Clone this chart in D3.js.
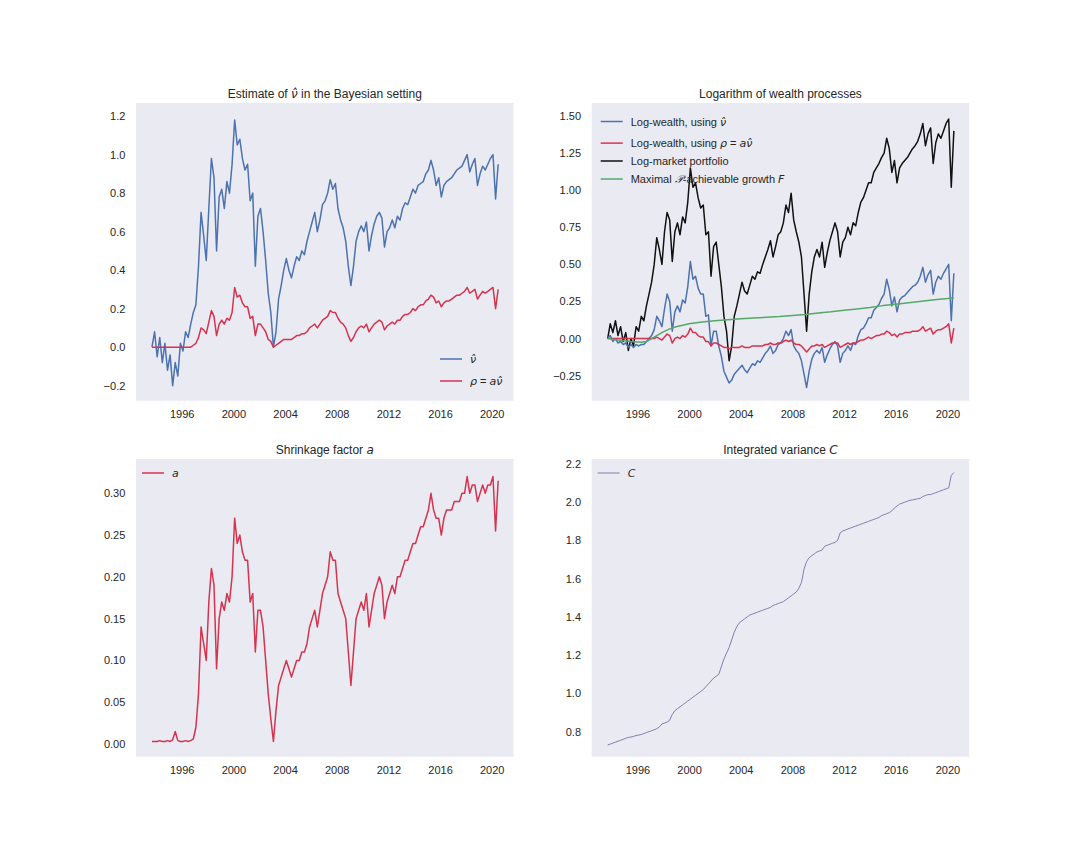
<!DOCTYPE html>
<html>
<head>
<meta charset="utf-8">
<script src="https://cdn.jsdelivr.net/npm/d3@7"></script>
<style>
  body { margin: 0; background: #fff; }
  text { font-family: "Liberation Sans", Arial, sans-serif; fill: #262626; }
  .math { font-family: "DejaVu Sans", sans-serif; font-style: italic; }
</style>
</head>
<body>
<svg id="fig" width="1080" height="864"></svg>
<script>
"use strict";

// sampling dates: every 0.2 year from 1993.7 to 2020.5
var years = d3.range(135).map(function (i) { return 1993.7 + 0.2 * i; });
var xTicks = [1996, 2000, 2004, 2008, 2012, 2016, 2020];

// estimate of nu-hat (blue, top left)
var nuHat = [
  0.00, 0.08,
  -0.05, 0.05, -0.08, 0.02, -0.12,
  -0.04, -0.20, -0.08, -0.15, 0.02,
  -0.02, 0.08, 0.05, 0.12, 0.18,
  0.22, 0.42, 0.70, 0.58, 0.45,
  0.72, 0.98, 0.88, 0.50, 0.78,
  0.82, 0.72, 0.86, 0.80, 0.95,
  1.18, 1.05, 1.08, 0.98, 0.92,
  0.95, 0.76, 0.80, 0.42, 0.68,
  0.72, 0.60, 0.45, 0.28, 0.18,
  0.00, 0.08, 0.25, 0.32, 0.40,
  0.46, 0.40, 0.36, 0.42, 0.47,
  0.45, 0.50, 0.48, 0.55, 0.60,
  0.65, 0.70, 0.60, 0.66, 0.74,
  0.76, 0.80, 0.87, 0.82, 0.85,
  0.72, 0.66, 0.62, 0.55, 0.42,
  0.32, 0.42, 0.55, 0.60, 0.63,
  0.60, 0.65, 0.50, 0.58, 0.64,
  0.68, 0.70, 0.67, 0.52, 0.60,
  0.62, 0.66, 0.62, 0.68, 0.66,
  0.72, 0.75, 0.74, 0.78, 0.82,
  0.80, 0.84, 0.85, 0.86, 0.90,
  0.92, 0.97, 0.92, 0.84, 0.88,
  0.78, 0.84, 0.86, 0.87, 0.88,
  0.90, 0.92, 0.93, 0.94, 0.97,
  1.00, 0.91, 0.95, 0.98, 0.84,
  0.90, 0.94, 0.92, 0.95, 0.98,
  1.00, 0.77, 0.95
];

// rho = a * nu-hat (red, top left)
var rho = [
  0.00, 0.00,
  0.00, 0.00, 0.00, 0.00, 0.00,
  0.00, 0.00, 0.00, 0.00, 0.00,
  0.00, 0.00, 0.00, 0.00, 0.01,
  0.02, 0.05, 0.10, 0.09, 0.07,
  0.13, 0.19, 0.16, 0.06, 0.12,
  0.14, 0.12, 0.15, 0.14, 0.18,
  0.31, 0.26, 0.27, 0.23, 0.21,
  0.21, 0.15, 0.16, 0.06, 0.12,
  0.12, 0.10, 0.08, 0.04, 0.03,
  0.00, 0.01, 0.02, 0.03, 0.04,
  0.04, 0.04, 0.04, 0.05, 0.06,
  0.06, 0.07, 0.07, 0.08, 0.10,
  0.11, 0.12, 0.10, 0.12, 0.14,
  0.15, 0.16, 0.19, 0.18, 0.18,
  0.15, 0.13, 0.12, 0.10, 0.06,
  0.03, 0.05, 0.08, 0.10, 0.11,
  0.10, 0.12, 0.08, 0.10, 0.12,
  0.13, 0.14, 0.13, 0.09, 0.11,
  0.12, 0.13, 0.12, 0.14, 0.14,
  0.16, 0.17, 0.17, 0.18, 0.20,
  0.19, 0.21, 0.22, 0.22, 0.24,
  0.25, 0.27, 0.26, 0.23, 0.24,
  0.21, 0.23, 0.24, 0.24, 0.25,
  0.26, 0.27, 0.27, 0.28, 0.29,
  0.31, 0.28, 0.29, 0.30, 0.25,
  0.27, 0.29, 0.28, 0.29, 0.30,
  0.31, 0.20, 0.30
];

// shrinkage factor a (bottom left)
var shrink = [
  0.003, 0.003,
  0.003, 0.004, 0.003, 0.003, 0.004,
  0.003, 0.005, 0.015, 0.004, 0.003,
  0.003, 0.004, 0.003, 0.004, 0.006,
  0.02, 0.06, 0.14, 0.12, 0.10,
  0.17, 0.21, 0.19, 0.09, 0.15,
  0.17, 0.16, 0.18, 0.17, 0.20,
  0.27, 0.24, 0.25, 0.23, 0.22,
  0.22, 0.17, 0.18, 0.11, 0.16,
  0.16, 0.14, 0.10, 0.06, 0.03,
  0.003, 0.04, 0.07, 0.08, 0.09,
  0.10, 0.09, 0.08, 0.09, 0.10,
  0.10, 0.11, 0.11, 0.12, 0.14,
  0.15, 0.16, 0.14, 0.16, 0.18,
  0.19, 0.20, 0.23, 0.22, 0.22,
  0.18, 0.17, 0.16, 0.15, 0.11,
  0.07, 0.11, 0.15, 0.16, 0.17,
  0.16, 0.18, 0.14, 0.16, 0.18,
  0.19, 0.20, 0.19, 0.15, 0.17,
  0.18, 0.19, 0.18, 0.20, 0.20,
  0.21, 0.22, 0.22, 0.23, 0.24,
  0.24, 0.25, 0.26, 0.26, 0.27,
  0.28, 0.30, 0.28, 0.27, 0.27,
  0.25, 0.27, 0.28, 0.28, 0.28,
  0.29, 0.29, 0.29, 0.30, 0.30,
  0.32, 0.30, 0.31, 0.31, 0.29,
  0.30, 0.31, 0.30, 0.31, 0.31,
  0.32, 0.255, 0.315
];

// integrated variance C (bottom right)
var intVar = [
  0.73, 0.735,
  0.74, 0.745, 0.75, 0.755, 0.76,
  0.765, 0.77, 0.772, 0.775, 0.78,
  0.782, 0.785, 0.79, 0.795, 0.80,
  0.805, 0.81, 0.815, 0.825, 0.84,
  0.845, 0.85, 0.86, 0.89, 0.91,
  0.92, 0.93, 0.94, 0.95, 0.96,
  0.97, 0.98, 0.99, 1.00, 1.01,
  1.02, 1.035, 1.05, 1.065, 1.08,
  1.09, 1.10, 1.14, 1.18, 1.21,
  1.24, 1.28, 1.32, 1.35, 1.37,
  1.38, 1.39, 1.40, 1.41, 1.415,
  1.42, 1.425, 1.43, 1.435, 1.44,
  1.445, 1.45, 1.46, 1.465, 1.47,
  1.475, 1.48, 1.49, 1.50, 1.51,
  1.52, 1.53, 1.55, 1.58, 1.65,
  1.69, 1.71, 1.72, 1.73, 1.74,
  1.745, 1.75, 1.77, 1.775, 1.78,
  1.785, 1.79, 1.80, 1.84, 1.85,
  1.855, 1.86, 1.865, 1.87, 1.875,
  1.88, 1.885, 1.89, 1.895, 1.90,
  1.905, 1.91, 1.915, 1.92, 1.93,
  1.935, 1.94, 1.945, 1.955, 1.97,
  1.98, 1.99, 1.995, 2.00, 2.005,
  2.01, 2.012, 2.015, 2.018, 2.02,
  2.03, 2.035, 2.04, 2.04, 2.045,
  2.05, 2.055, 2.06, 2.065, 2.07,
  2.075, 2.14, 2.155
];

// log-market portfolio (black, top right)
var logMarket = [
  0.00, 0.10,
  0.04, 0.12, 0.02, 0.08, -0.02,
  0.04, -0.08, 0.00, -0.05, 0.08,
  0.05, 0.15, 0.12, 0.22, 0.30,
  0.38, 0.50, 0.68, 0.60, 0.50,
  0.72, 0.85, 0.80, 0.52, 0.72,
  0.78, 0.70, 0.82, 0.78, 0.92,
  1.15, 1.02, 1.05, 0.95, 0.88,
  0.90, 0.70, 0.72, 0.42, 0.62,
  0.65, 0.50, 0.35, 0.15, 0.05,
  -0.15, -0.05, 0.15, 0.22, 0.30,
  0.38, 0.32, 0.30, 0.36, 0.42,
  0.40, 0.45, 0.44, 0.50, 0.55,
  0.60, 0.66, 0.55, 0.62, 0.70,
  0.72, 0.78, 0.90, 0.85, 0.98,
  0.80, 0.72, 0.65, 0.55, 0.30,
  0.05, 0.30, 0.45, 0.55, 0.60,
  0.55, 0.65, 0.48, 0.58, 0.66,
  0.72, 0.78, 0.72, 0.55, 0.65,
  0.68, 0.75, 0.70, 0.78, 0.76,
  0.85, 0.92, 0.95, 1.00, 1.05,
  1.05, 1.12, 1.15, 1.18, 1.22,
  1.25, 1.35, 1.28, 1.12, 1.20,
  1.05, 1.15, 1.18, 1.20, 1.22,
  1.25, 1.28, 1.30, 1.33, 1.38,
  1.45, 1.30, 1.38, 1.42, 1.18,
  1.32, 1.38, 1.35, 1.40, 1.45,
  1.48, 1.02, 1.40
];

// log-wealth using nu-hat (blue, top right)
var wealthNu = [
  0.00, 0.02,
  -0.02, 0.00, -0.03, -0.02, -0.04,
  -0.03, -0.06, -0.04, -0.06, -0.04,
  -0.05, -0.04, -0.04, -0.02, 0.00,
  0.02, 0.06, 0.15, 0.12, 0.08,
  0.20, 0.30, 0.25, 0.05, 0.18,
  0.22, 0.18, 0.26, 0.24, 0.35,
  0.52, 0.40, 0.42, 0.34, 0.30,
  0.30, 0.15, 0.16, -0.05, 0.05,
  0.05, -0.05, -0.12, -0.22, -0.26,
  -0.30, -0.28, -0.24, -0.22, -0.20,
  -0.18, -0.21, -0.23, -0.20, -0.17,
  -0.18, -0.15, -0.16, -0.13, -0.10,
  -0.08, -0.05, -0.10, -0.08, -0.04,
  -0.03, 0.00, 0.05, 0.02, 0.06,
  -0.05, -0.08, -0.10, -0.15, -0.24,
  -0.33, -0.22, -0.14, -0.10, -0.08,
  -0.10, -0.06, -0.16, -0.11, -0.07,
  -0.04, -0.02, -0.05, -0.16, -0.10,
  -0.08, -0.05, -0.08, -0.03, -0.04,
  0.02, 0.06, 0.07, 0.10, 0.14,
  0.14, 0.19, 0.21, 0.23, 0.27,
  0.30, 0.40, 0.33, 0.22, 0.28,
  0.18, 0.26, 0.28, 0.29, 0.31,
  0.33, 0.35, 0.36, 0.38, 0.42,
  0.48, 0.38, 0.43, 0.46, 0.30,
  0.38, 0.42, 0.40, 0.44, 0.47,
  0.50, 0.12, 0.44
];

// log-wealth using rho (red, top right)
var wealthRho = [
  0.00, 0.00,
  0.00, 0.00, 0.00, 0.00, 0.00,
  0.00, 0.00, 0.00, 0.00, 0.00,
  0.00, 0.00, 0.00, 0.00, 0.00,
  0.00, 0.00, 0.01, 0.00, -0.01,
  0.01, 0.03, 0.02, -0.03, 0.00,
  0.01, 0.00, 0.02, 0.01, 0.03,
  0.07, 0.04, 0.04, 0.02, 0.01,
  0.01, -0.02, -0.02, -0.05, -0.03,
  -0.03, -0.04, -0.05, -0.06, -0.06,
  -0.07, -0.06, -0.06, -0.06, -0.06,
  -0.05, -0.06, -0.06, -0.06, -0.05,
  -0.05, -0.05, -0.05, -0.05, -0.04,
  -0.04, -0.03, -0.04, -0.04, -0.03,
  -0.03, -0.02, -0.01, -0.02, -0.01,
  -0.03, -0.04, -0.04, -0.05, -0.07,
  -0.09, -0.07, -0.05, -0.05, -0.04,
  -0.05, -0.04, -0.06, -0.05, -0.04,
  -0.03, -0.03, -0.03, -0.06, -0.05,
  -0.04, -0.03, -0.04, -0.03, -0.03,
  -0.02, -0.01, -0.01, 0.00, 0.01,
  0.00, 0.01, 0.02, 0.02, 0.03,
  0.03, 0.05, 0.04, 0.02, 0.03,
  0.01, 0.03, 0.03, 0.04, 0.04,
  0.04, 0.05, 0.05, 0.05, 0.06,
  0.08, 0.05, 0.06, 0.07, 0.03,
  0.05, 0.06, 0.06, 0.07, 0.08,
  0.10, -0.03, 0.07
];

// maximal P-achievable growth F (green, top right), smooth so sampled yearly
var growthYears = [1993.7, 1994.5, 1995.5, 1996.3, 1996.7, 1997.0, 1997.5, 1998.0, 1998.5, 1999.0,
  2000, 2001, 2002, 2003, 2004, 2005, 2006, 2007, 2008, 2009, 2010, 2011, 2012,
  2013, 2014, 2015, 2016, 2017, 2018, 2019, 2020, 2020.5];
var growthF = [0.00, -0.01, -0.02, -0.025, -0.02, -0.005, 0.02, 0.045, 0.065, 0.08,
  0.100, 0.112, 0.120, 0.127, 0.133, 0.138, 0.143, 0.148, 0.155, 0.162, 0.172, 0.180, 0.190,
  0.200, 0.210, 0.222, 0.232, 0.242, 0.252, 0.262, 0.270, 0.275];

var blue = "#4C72B0", red = "#D6334F", green = "#55A868", black = "#111111", purple = "#7F7FAE";

var W = 377.5, H = 297.7;
var xDomain = [1992.462, 2021.688];
var svg = d3.select("#fig");

function makePanel(id, left, top, yDomain, yTicks, yFormat, titleParts) {
  var g = svg.append("g").attr("transform", "translate(" + left + "," + top + ")");
  g.append("rect").attr("width", W).attr("height", H).attr("fill", "#EAEAF2");
  g.append("clipPath").attr("id", id).append("rect").attr("width", W).attr("height", H);

  var x = d3.scaleLinear().domain(xDomain).range([0, W]);
  var y = d3.scaleLinear().domain(yDomain).range([H, 0]);

  var gx = g.append("g").attr("transform", "translate(0," + H + ")")
    .call(d3.axisBottom(x).tickValues(xTicks).tickFormat(d3.format("d")).tickSize(0).tickPadding(9.5));
  var gy = g.append("g")
    .call(d3.axisLeft(y).tickValues(yTicks).tickFormat(d3.format(yFormat)).tickSize(0).tickPadding(10.7));
  [gx, gy].forEach(function (a) {
    a.select(".domain").remove();
    a.attr("font-family", null).attr("font-size", 11);
    a.selectAll("text").attr("fill", "#262626");
  });

  var t = g.append("text").attr("x", W / 2).attr("y", -5)
    .attr("text-anchor", "middle").attr("font-size", 12);
  addParts(t, titleParts);

  var plot = g.append("g").attr("clip-path", "url(#" + id + ")");
  return {g: g, plot: plot, x: x, y: y};
}

function addParts(textSel, parts) {
  parts.forEach(function (p) {
    var s = textSel.append("tspan").text(p.t);
    if (p.m) s.attr("class", "math");
  });
}

function drawLine(panel, xs, ys, color, width) {
  var line = d3.line()
    .x(function (d, i) { return panel.x(xs[i]); })
    .y(function (d) { return panel.y(d); });
  panel.plot.append("path")
    .datum(ys)
    .attr("d", line)
    .attr("fill", "none")
    .attr("stroke", color)
    .attr("stroke-width", width || 1.5)
    .attr("stroke-linejoin", "round");
}

function drawLegend(panel, items, lx, ly) {
  var lg = panel.g.append("g").attr("transform", "translate(" + lx + "," + ly + ")");
  items.forEach(function (it) {
    lg.append("line").attr("x1", 0).attr("x2", 22).attr("y1", it.dy).attr("y2", it.dy)
      .attr("stroke", it.color).attr("stroke-width", it.width || 1.5);
    var t = lg.append("text").attr("x", 30).attr("y", it.dy + 4).attr("font-size", 11);
    addParts(t, it.parts);
  });
}

var nuParts = [{t: "\u03BD\u0302", m: 1}];

// top left
var p1 = makePanel("c1", 136, 103, [-0.278, 1.268], d3.range(-0.2, 1.21, 0.2), ".1f",
  [{t: "Estimate of "}, {t: "\u03BD\u0302", m: 1}, {t: " in the Bayesian setting"}]);
drawLine(p1, years, nuHat, blue);
drawLine(p1, years, rho, red);
drawLegend(p1, [
  {color: blue, dy: 0, parts: nuParts},
  {color: red, dy: 22, parts: [{t: "\u03C1", m: 1}, {t: " = "}, {t: "a", m: 1}, {t: "\u03BD\u0302", m: 1}]}
], 304, 256);

// top right
var p2 = makePanel("c2", 591.7, 103, [-0.419, 1.588], d3.range(-0.25, 1.51, 0.25), ".2f",
  [{t: "Logarithm of wealth processes"}]);
drawLine(p2, years, logMarket, black);
drawLine(p2, years, wealthNu, blue);
drawLine(p2, years, wealthRho, red);
drawLine(p2, growthYears, growthF, green);
drawLegend(p2, [
  {color: blue, dy: 0, parts: [{t: "Log-wealth, using "}].concat(nuParts)},
  {color: red, dy: 21.6, parts: [{t: "Log-wealth, using "}, {t: "\u03C1", m: 1}, {t: " = "}, {t: "a", m: 1}, {t: "\u03BD\u0302", m: 1}]},
  {color: black, dy: 39.5, parts: [{t: "Log-market portfolio"}]},
  {color: green, dy: 57.5, parts: [{t: "Maximal "}, {t: "\uD835\uDCAB", m: 1}, {t: "-achievable growth "}, {t: "F", m: 1}]}
], 9, 18.5);

// bottom left
var p3 = makePanel("c3", 136, 459, [-0.0152, 0.341], d3.range(0, 0.301, 0.05), ".2f",
  [{t: "Shrinkage factor "}, {t: "a", m: 1}]);
drawLine(p3, years, shrink, red);
drawLegend(p3, [{color: red, dy: 0, parts: [{t: "a", m: 1}]}], 6, 14);

// bottom right
var p4 = makePanel("c4", 591.7, 459, [0.669, 2.226], d3.range(0.8, 2.21, 0.2), ".1f",
  [{t: "Integrated variance "}, {t: "C", m: 1}]);
drawLine(p4, years, intVar, purple, 1);
drawLegend(p4, [{color: purple, dy: 0, width: 1, parts: [{t: "C", m: 1}]}], 6, 14);
</script>
</body>
</html>
